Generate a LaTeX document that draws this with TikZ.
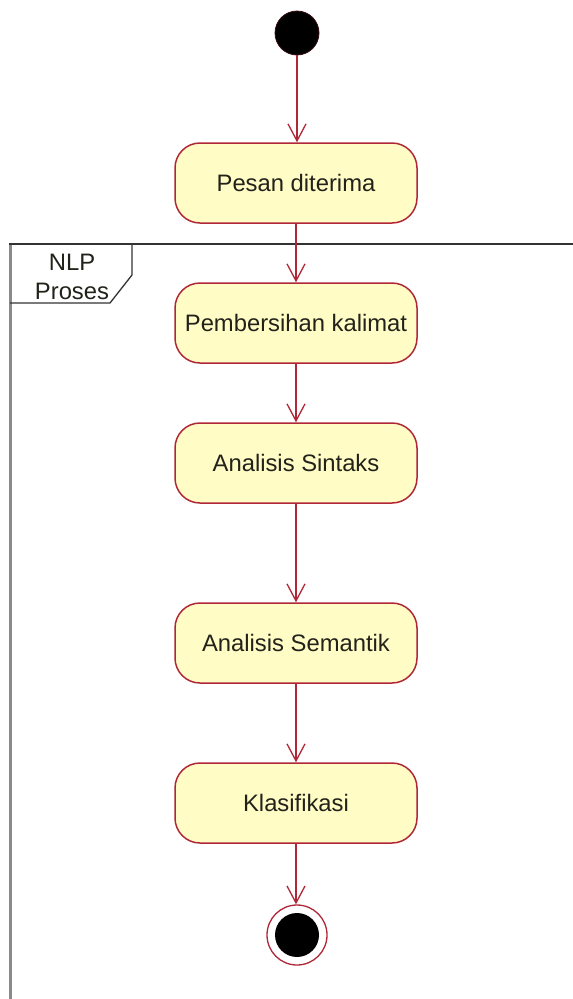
\documentclass[tikz,border=0pt]{standalone}
\usepackage{fontspec}
\setmainfont{Liberation Sans}
\usetikzlibrary{arrows.meta}
\definecolor{umlred}{HTML}{B02838}
\definecolor{umlfill}{HTML}{FFFCC6}
\definecolor{umltext}{HTML}{22221A}
\definecolor{framegray}{HTML}{8A8A8A}
\tikzset{
  action/.style={draw=umlred, fill=umlfill, line width=1.5pt, rounded corners=25pt,
    minimum width=242pt, minimum height=80pt, inner sep=0pt,
    text=umltext, font=\fontsize{23.8}{28}\selectfont},
  flow/.style={draw=umlred, line width=1.5pt,
    -{Straight Barb[length=17pt,width=18pt,line width=1.3pt]}},
}
\begin{document}
\begin{tikzpicture}[x=1pt,y=-1pt]
\useasboundingbox[fill=white] (0,0) rectangle (573,999);

% partition frame
\draw[framegray, line width=3pt] (10,244) -- (10,999);
\draw[black!80, line width=1.6pt] (9,244) -- (573,244);
\draw[black!80, line width=1.3pt] (10,244) -- (132,244) -- (132,275) -- (110,303) -- (10,303);
\node[font=\fontsize{23.8}{29}\selectfont, align=center, text=umltext] (frametitle) at (72,277) {NLP\\Proses};

% start and end
\node[circle, fill=black, draw=black!70!umlred, line width=0.8pt, minimum size=44pt, inner sep=0pt] (start) at (297,33) {};
\node[circle, draw=umlred, fill=white, line width=1.3pt, minimum size=60pt, inner sep=0pt] (finish) at (297,935) {};
\node[circle, fill=black, minimum size=44pt, inner sep=0pt] (finishdot) at (297,935) {};

% activities
\node[action] (pesan) at (296,183) {Pesan diterima};
\node[action] (bersih) at (296,323) {Pembersihan kalimat};
\node[action] (sintaks) at (296,463) {Analisis Sintaks};
\node[action] (semantik) at (296,643) {Analisis Semantik};
\node[action] (klas) at (296,803) {Klasifikasi};

% control flow
\draw[flow] (start.south) -- (start.south |- pesan.north);
\draw[flow] (pesan.south) -- (bersih.north);
\draw[flow] (bersih.south) -- (sintaks.north);
\draw[flow] (sintaks.south) -- (semantik.north);
\draw[flow] (semantik.south) -- (klas.north);
\draw[flow] (klas.south) -- (klas.south |- finish.north);
\end{tikzpicture}
\end{document}
